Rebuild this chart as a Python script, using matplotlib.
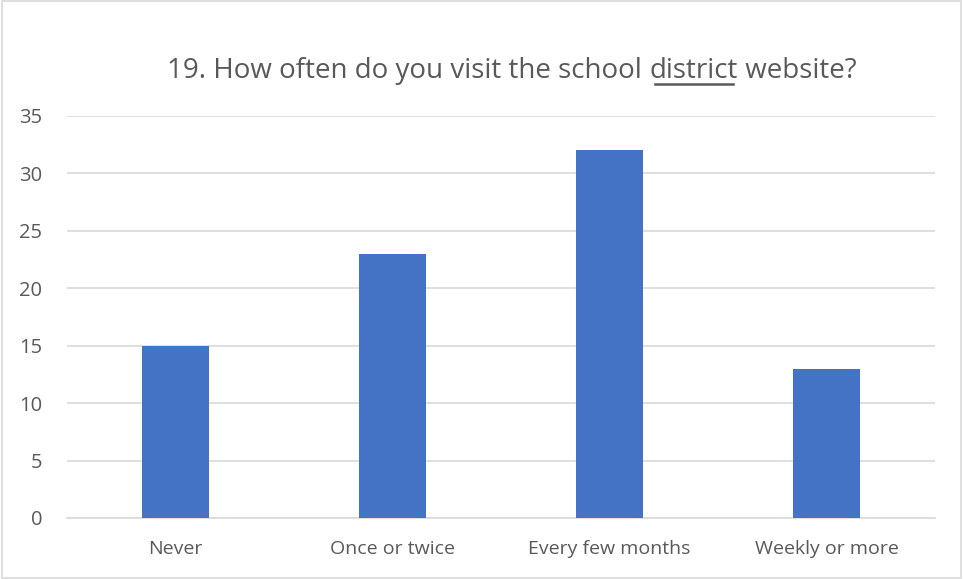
import matplotlib.pyplot as plt
from matplotlib.patches import Rectangle
from matplotlib.lines import Line2D

categories = ["Never", "Once or twice", "Every few months", "Weekly or more"]
counts = [15, 23, 32, 13]
yticks = [0, 5, 10, 15, 20, 25, 30, 35]

bar_color = "#4472C4"
text_color = "#595959"
grid_color = "#D9D9D9"

plt.rcParams['font.family'] = ['Open Sans', 'DejaVu Sans']

fig = plt.figure(figsize=(9.63, 5.79), dpi=100)
ax = fig.add_axes([0.0696, 0.1054, 0.9014, 0.6943])

x = list(range(len(categories)))
ax.bar(x, counts, width=0.31, color=bar_color, zorder=3)
ax.set_xlim(-0.5, len(categories) - 0.5)
ax.set_ylim(0, 35)
ax.set_yticks(yticks)
ax.set_xticks(x)
ax.set_xticklabels(categories)
ax.yaxis.grid(True, color=grid_color, linewidth=1.2, zorder=0)
for s in ax.spines.values():
    s.set_visible(False)
ax.spines['bottom'].set_visible(True)
ax.spines['bottom'].set_color(grid_color)
ax.spines['bottom'].set_linewidth(1.2)
ax.tick_params(axis='both', length=0, colors=text_color)
ax.tick_params(axis='y', pad=18, labelsize=14.5)
ax.tick_params(axis='x', pad=16, labelsize=14)

# title in three pieces so "district" can be underlined
parts = ["19. How often do you visit the school ", "district", " website?"]
fs = 20
renderer = fig.canvas.get_renderer()
widths = []
for p in parts:
    t = fig.text(0, 0, p, fontsize=fs)
    widths.append(t.get_window_extent(renderer).width)
    t.remove()
total = sum(widths)
x0 = 512 - total / 2
ybase = 579 - 78
xpos = x0
for p, w in zip(parts, widths):
    fig.text(xpos / 963, ybase / 579, p, fontsize=fs, color=text_color,
             va='baseline', ha='left')
    xpos += w
ux0 = x0 + widths[0] + 5
ux1 = x0 + widths[0] + widths[1] - 5
fig.add_artist(Line2D([ux0 / 963, ux1 / 963], [(ybase - 6) / 579] * 2,
                      color=text_color, linewidth=1.8, transform=fig.transFigure))

fig.add_artist(Rectangle((0.002, 0.002), 0.996, 0.996, fill=False,
                         edgecolor=grid_color, linewidth=1.2,
                         transform=fig.transFigure))

fig.savefig("out.png", dpi=100)
